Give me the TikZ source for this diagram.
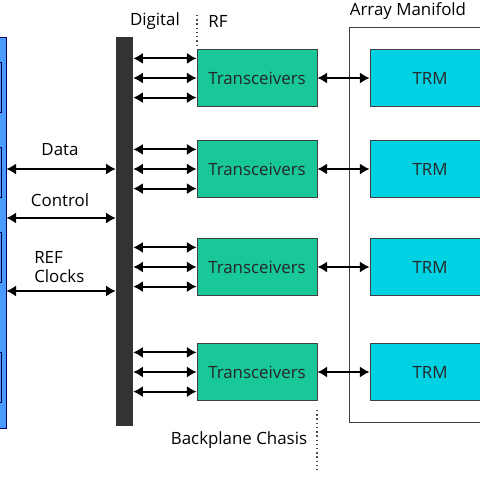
\documentclass[tikz,border=0pt]{standalone}
\usepackage{fontspec}
\setmainfont{Open Sans}
\usetikzlibrary{arrows.meta, positioning, calc}
\definecolor{hostblue}{RGB}{74, 155, 255}
\definecolor{busgray}{RGB}{51, 51, 51}
\definecolor{txgreen}{RGB}{24, 200, 152}
\definecolor{trmcyan}{RGB}{0, 210, 228}

\begin{document}
\begin{tikzpicture}[
    x=0.025cm, y=-0.025cm,
    font=\fontsize{12pt}{14pt}\selectfont,
    txbox/.style={rectangle, draw=black!75, fill=txgreen, line width=0.6pt, minimum width=3cm, minimum height=1.425cm, text=black!85},
    trmbox/.style={txbox, fill=trmcyan},
    link/.style={{Latex[length=2.4mm,width=2.8mm]}-{Latex[length=2.4mm,width=2.8mm]}, line width=1.4pt},
    divider/.style={dotted, line width=1pt, black!70}
]
    \clip (0,0) rectangle (480,480);

    % Host card and backplane bus
    \node[rectangle, draw=blue!40!black, fill=hostblue, line width=0.6pt, minimum width=0.4cm, minimum height=9.775cm] (host) at (-2,232.5) {};
    \foreach \ya/\yb in {62/112, 147/197, 232/282, 352/402}
        \draw[draw=blue!30!black, fill=hostblue, line width=0.6pt] (-20,\ya) rectangle (1,\yb);
    \node[rectangle, fill=busgray, minimum width=0.425cm, minimum height=9.725cm, inner sep=0pt] (bus) at (124.5,231.5) {};

    % Array manifold frame
    \draw[black!75, line width=0.6pt] (520,27) -- (349,27) -- (349,422) -- (520,422);

    % Boxes
    \node[txbox] (tx1) at (257,78) {Transceivers};
    \node[txbox] (tx2) at (257,169) {Transceivers};
    \node[txbox] (tx3) at (257,267) {Transceivers};
    \node[txbox] (tx4) at (257,372) {Transceivers};
    \node[trmbox] (trm1) at (430,78) {TRM};
    \node[trmbox] (trm2) at (430,169) {TRM};
    \node[trmbox] (trm3) at (430,267) {TRM};
    \node[trmbox] (trm4) at (430,372) {TRM};

    % Labels
    \node (digital) at (155,21) {Digital};
    \node (rf) at (218,21) {RF};
    \node (manifold) at (408,11) {Array Manifold};
    \node (chasis) at (239,440) {Backplane Chasis};
    \node (data) at (60,150) {Data};
    \node (control) at (60,200) {Control};
    \node[align=left, anchor=west, inner sep=0pt] (clocks) at (34,267) {REF\\Clocks};

    % Dividers
    \draw[divider] (197,15) -- (197,45);
    \draw[divider] (317,410) -- (317,470);

    % Arrows
    \coordinate (dataln) at (0,169);
    \coordinate (ctrlln) at (0,218);
    \coordinate (clkln) at (0,291);
    \foreach \c in {dataln, ctrlln, clkln}
        \draw[link] (host.east |- \c) -- (bus.west |- \c);
    \foreach \i in {1,2,3,4} {
        \foreach \d in {-0.49cm, 0cm, 0.49cm}
            \draw[link] ([yshift=\d]tx\i.west -| bus.east) -- ([yshift=\d]tx\i.west);
        \draw[link] (tx\i) -- (trm\i);
    }
\end{tikzpicture}
\end{document}
